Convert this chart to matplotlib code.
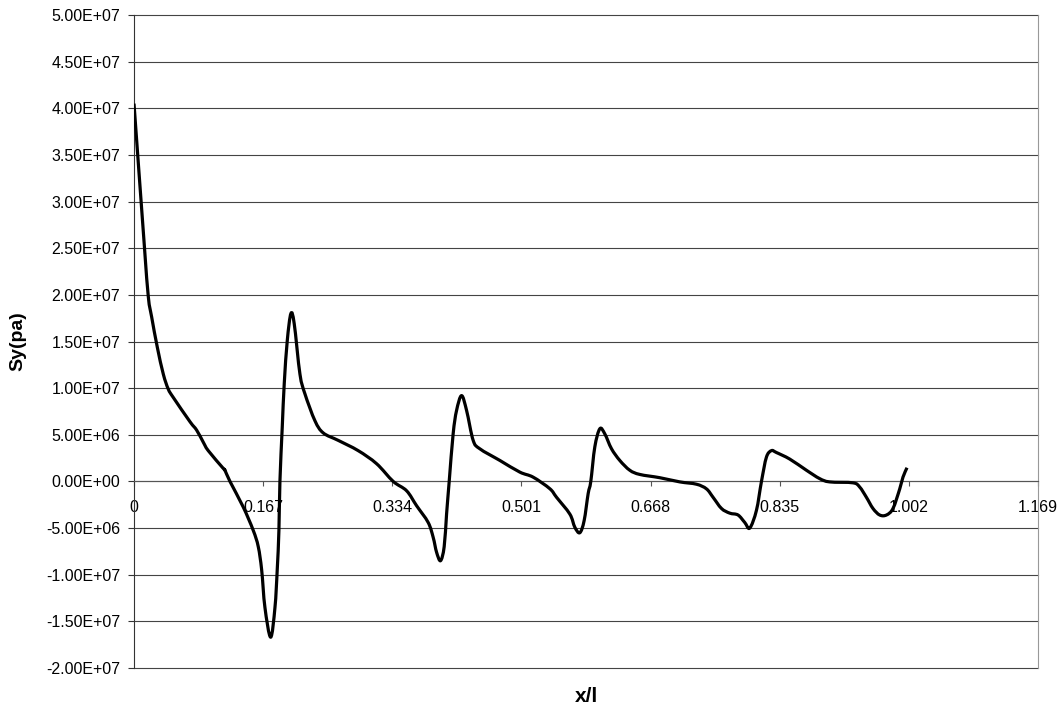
import matplotlib
matplotlib.use('Agg')
import matplotlib.pyplot as plt
from matplotlib.path import Path
from matplotlib.patches import PathPatch
from matplotlib.ticker import FuncFormatter

plt.rcParams['font.family'] = ['Liberation Sans', 'DejaVu Sans']

# x/l i Sy [Pa]
x_l = [0.000, 0.0129, 0.0185, 0.0229, 0.0301, 0.0379, 0.0443, 0.0508, 0.0724, 0.0810,
       0.0896, 0.0960, 0.1154, 0.1176, 0.1241, 0.1413, 0.1542, 0.1607, 0.1651, 0.1693,
       0.1767, 0.1823, 0.1852, 0.1874, 0.1887, 0.1917, 0.1943, 0.1982, 0.2029, 0.2072,
       0.2146, 0.2210, 0.2340, 0.2447, 0.2641, 0.2899, 0.3137, 0.3352, 0.3525, 0.3654,
       0.3804, 0.3869, 0.3913, 0.3964, 0.4011, 0.4042, 0.4076, 0.4127, 0.4171, 0.4236,
       0.4301, 0.4386, 0.4472, 0.4731, 0.4989, 0.5161, 0.5377, 0.5464, 0.5636, 0.5700,
       0.5765, 0.5821, 0.5873, 0.5907, 0.5959, 0.6024, 0.6088, 0.6175, 0.6282, 0.6411,
       0.6540, 0.6799, 0.7058, 0.7274, 0.7403, 0.7488, 0.7597, 0.7704, 0.7811, 0.7898,
       0.7963, 0.8049, 0.8114, 0.8178, 0.8243, 0.8307, 0.8479, 0.8695, 0.8867, 0.8996,
       0.9298, 0.9384, 0.9471, 0.9556, 0.9643, 0.9730, 0.9815, 0.9902, 0.9944, 0.9996]
sy = [4.05e7, 2.58e7, 1.98e7, 1.76e7, 1.44e7, 1.15e7, 9.9e6, 9.0e6, 6.4e6, 5.5e6,
      4.2e6, 3.3e6, 1.4e6, 1.2e6, 0.0, -2.75e6, -5.25e6, -7.0e6, -9.5e6, -1.35e7,
      -1.67e7, -1.35e7, -9.5e6, -5.25e6, 0.0, 5.8e6, 1.05e7, 1.51e7, 1.8e7, 1.69e7,
      1.15e7, 9.4e6, 6.5e6, 5.2e6, 4.4e6, 3.3e6, 1.9e6, 0.0, -1.0e6, -2.6e6,
      -4.4e6, -6.0e6, -7.6e6, -8.5e6, -7.0e6, -3.5e6, 0.0, 5.1e6, 7.6e6, 9.2e6,
      7.6e6, 4.4e6, 3.5e6, 2.25e6, 1.0e6, 4.6e5, -7.8e5, -1.7e6, -3.5e6, -4.9e6,
      -5.5e6, -4.2e6, -1.3e6, 0.0, 3.7e6, 5.65e6, 5.1e6, 3.5e6, 2.25e6, 1.2e6,
      7.5e5, 4.0e5, -5.0e4, -3.0e5, -8.0e5, -1.7e6, -2.9e6, -3.4e6, -3.6e6, -4.4e6,
      -5.0e6, -3.1e6, 0.0, 2.6e6, 3.3e6, 3.1e6, 2.4e6, 1.2e6, 3.0e5, -5.0e4,
      -1.5e5, -6.0e5, -1.7e6, -2.9e6, -3.6e6, -3.6e6, -2.9e6, -8.0e5, 4.6e5, 1.47e6]

x_ticks = [0, 0.167, 0.334, 0.501, 0.668, 0.835, 1.002, 1.169]
x_tick_labels = ['0', '0.167', '0.334', '0.501', '0.668', '0.835', '1.002', '1.169']
y_ticks = [-2.0e7 + 5.0e6 * i for i in range(15)]


def smooth_path(xs, ys, t=1 / 6):
    # linia wygladzona jak w Excelu: krzywe Beziera przez punkty danych
    verts = [(xs[0], ys[0])]
    codes = [Path.MOVETO]
    n = len(xs)
    for i in range(n - 1):
        i0 = max(i - 1, 0)
        i3 = min(i + 2, n - 1)
        c1 = (xs[i] + (xs[i + 1] - xs[i0]) * t, ys[i] + (ys[i + 1] - ys[i0]) * t)
        c2 = (xs[i + 1] - (xs[i3] - xs[i]) * t, ys[i + 1] - (ys[i3] - ys[i]) * t)
        verts += [c1, c2, (xs[i + 1], ys[i + 1])]
        codes += [Path.CURVE4] * 3
    return Path(verts, codes)


fig = plt.figure(figsize=(10.63, 7.15), dpi=100)
ax = fig.add_axes([134 / 1063, 47 / 715, 904 / 1063, 653 / 715])

ax.add_patch(PathPatch(smooth_path(x_l, sy), facecolor='none', edgecolor='black',
                       lw=2.3, joinstyle='round', capstyle='butt', zorder=3))

ax.set_xlim(0, 1.169)
ax.set_ylim(-2.0e7, 5.0e7)
ax.set_yticks(y_ticks)
ax.yaxis.set_major_formatter(FuncFormatter(lambda v, p: '{:.2E}'.format(v)))
ax.set_xticks(x_ticks)
ax.set_xticklabels(x_tick_labels)

ax.grid(axis='y', color='#444444', lw=0.8)
for gl in ax.get_ygridlines():
    gl.set_clip_on(False)
ax.set_axisbelow(True)

ax.spines['top'].set_visible(False)
ax.spines['right'].set_color('#999999')
ax.spines['left'].set_color('#333333')
ax.spines['bottom'].set_position(('data', 0))
ax.spines['bottom'].set_color('#555555')

ax.tick_params(axis='y', direction='out', length=4, width=0.8, color='#333333',
               labelsize=11.5, pad=6)
ax.tick_params(axis='x', direction='out', length=3.5, width=0.8, color='#555555',
               labelsize=11.5, pad=10)

fig.text(18 / 1063, 1 - 341 / 715, 'Sy(pa)', rotation=90, ha='center', va='center',
         fontsize=14, fontweight='bold')
fig.text(586 / 1063, 1 - 697 / 715, 'x/l', ha='center', va='center',
         fontsize=15, fontweight='bold')

fig.savefig('out.png', dpi=100)
